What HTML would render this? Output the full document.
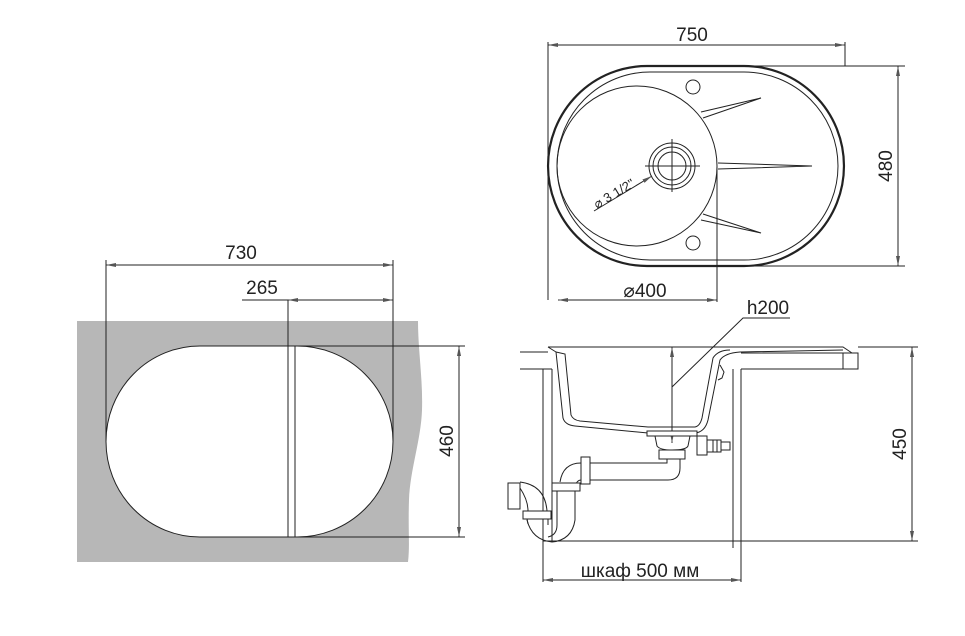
<!DOCTYPE html>
<html><head><meta charset="utf-8"><style>
html,body{margin:0;padding:0;background:#fff;}
svg{display:block;}
text{font-family:"Liberation Sans",sans-serif;fill:#222;}
</style></head><body>
<svg width="965" height="636" viewBox="0 0 965 636" xmlns="http://www.w3.org/2000/svg">
<defs>
<marker id="a" viewBox="0 0 10 6" refX="10" refY="3" markerWidth="10" markerHeight="6" orient="auto-start-reverse" markerUnits="userSpaceOnUse"><path d="M0,1 L10,3 L0,5 z" fill="#555"/></marker>
</defs>
<g stroke="#222" fill="none" stroke-width="1">
<!-- LEFT VIEW -->
<path d="M77,321 L418,321 C418,350 423,380 422,410 C421,440 410,470 409,500 C408,530 410,545 408,562 L77,562 Z" fill="#b7b7b7" stroke="none"/>
<path d="M200,346 L297,346 A96,95.5 0 0 1 297,537 L200,537 A94,95.5 0 0 1 200,346 Z" fill="#fff" stroke="#222"/>
<line x1="288" y1="300" x2="288" y2="537"/>
<line x1="295" y1="346" x2="295" y2="537"/>
<line x1="106" y1="260" x2="106" y2="441"/>
<line x1="393" y1="260" x2="393" y2="441"/>
<line x1="106" y1="265" x2="393" y2="265" marker-start="url(#a)" marker-end="url(#a)"/>
<line x1="242" y1="300" x2="288" y2="300"/>
<line x1="288" y1="300" x2="393" y2="300" marker-start="url(#a)" marker-end="url(#a)"/>
<line x1="297" y1="346" x2="465" y2="346"/>
<line x1="297" y1="537" x2="465" y2="537"/>
<line x1="459" y1="346" x2="459" y2="537" marker-start="url(#a)" marker-end="url(#a)"/>

<!-- TOP VIEW -->
<path d="M647,66 L744,66 A100,100 0 0 1 744,266 L647,266 A99,100 0 0 1 647,66 Z" stroke-width="2.2"/>
<path d="M650,72 L744,72 A94,94 0 0 1 744,260 L650,260 A93,94 0 0 1 650,72 Z"/>
<circle cx="637" cy="166" r="80"/>
<circle cx="693" cy="87" r="7"/>
<circle cx="693" cy="243" r="7"/>
<circle cx="672" cy="166" r="23"/>
<circle cx="672" cy="166" r="19"/>
<circle cx="672" cy="166" r="14"/>
<line x1="645" y1="166" x2="700" y2="166"/>
<line x1="672" y1="139" x2="672" y2="192"/>
<path d="M701,112 L761,98 L703,118"/>
<path d="M718,163 L812,166 L718,169"/>
<path d="M701,220 L761,233 L703,214"/>
<line x1="594" y1="211" x2="652" y2="176" marker-end="url(#a)"/>
<line x1="548" y1="42" x2="548" y2="300"/>
<line x1="845" y1="42" x2="845" y2="66"/>
<line x1="548" y1="45" x2="845" y2="45" marker-start="url(#a)" marker-end="url(#a)"/>
<line x1="744" y1="66" x2="905" y2="66"/>
<line x1="744" y1="266" x2="905" y2="266"/>
<line x1="898" y1="66" x2="898" y2="266" marker-start="url(#a)" marker-end="url(#a)"/>
<line x1="717" y1="166" x2="717" y2="302"/>
<line x1="558" y1="300" x2="717" y2="300" marker-start="url(#a)" marker-end="url(#a)"/>

<!-- SIDE VIEW -->
<path d="M520,352 L548,352 M520,369 L552,369"/>
<path d="M548,347 L843,347 L852,353 M741,353 L858,353 L858,369 L741,369 M843,353 L843,369"/>
<path d="M548,347 L556,352 L563,418 Q565,425 575,426 L648,433 L695,433 Q705,432 708,420 L720,360 Q725,353 740,352 L843,350"/>
<path d="M556,352 L565,354 L571,415 Q573,420 580,421 L648,427 L695,427 Q700,426 702,418 L713,358 Q718,350 730,350"/>
<path d="M720,365 L724,372 L722,378 L718,380"/>
<line x1="543" y1="369" x2="543" y2="582"/>
<line x1="552" y1="369" x2="552" y2="541"/>
<line x1="733" y1="369" x2="733" y2="548"/>
<line x1="741" y1="369" x2="741" y2="582"/>
<line x1="543" y1="541" x2="918" y2="541"/>
<line x1="858" y1="347" x2="918" y2="347"/>
<line x1="912" y1="347" x2="912" y2="541" marker-start="url(#a)" marker-end="url(#a)"/>
<line x1="543" y1="580" x2="741" y2="580" marker-start="url(#a)" marker-end="url(#a)"/>
<line x1="672" y1="347" x2="672" y2="443" marker-start="url(#a)" marker-end="url(#a)"/>
<path d="M672,387 L743,318 L790,318"/>
<!-- drain -->
<rect x="647" y="431" width="50" height="5" fill="#fff"/>
<path d="M655,436 L657,446 Q660,450 672,450 Q686,450 688,446 L690,436"/>
<rect x="659" y="450" width="26" height="9" fill="#fff"/>
<path d="M667,459 L667,463 L590,463 M680,459 L680,468 Q680,480 668,480 L590,480"/>
<rect x="697" y="436" width="10" height="19" fill="#fff"/>
<path d="M707,440 L721,440 L721,452 L707,452 M713,440 L713,452 M717,440 L717,452 M721,442 L730,442 L730,450 L721,450"/>
<rect x="581" y="457" width="9" height="27" fill="#fff"/>
<path d="M581,463 Q563,463 560,482 M581,480 Q577,480 575,486"/>
<rect x="552" y="483" width="28" height="8" fill="#fff"/>
<path d="M557,491 L557,525 Q557,535 548,537 M575,491 L575,520 Q572,540 552,542 Q532,540 527,520"/>
<rect x="523" y="511" width="28" height="8" fill="#fff"/>
<path d="M527,519 L528,524 M548,519 L548,525 M528,511 Q528,500 520,488 M547,511 Q545,485 520,482"/>
<rect x="508" y="483" width="12" height="26" fill="#fff"/>
</g>
<g font-size="19">
<text x="241" y="259" text-anchor="middle">730</text>
<text x="262" y="294" text-anchor="middle">265</text>
<text x="692" y="41" text-anchor="middle">750</text>
<text x="645" y="297" text-anchor="middle">⌀400</text>
<text x="768" y="314" text-anchor="middle">h200</text>
<text x="640" y="577" text-anchor="middle">шкаф 500 мм</text>
<text transform="translate(453,441) rotate(-90)" text-anchor="middle">460</text>
<text transform="translate(892,166) rotate(-90)" text-anchor="middle">480</text>
<text transform="translate(906,444) rotate(-90)" text-anchor="middle">450</text>
<text transform="translate(597,209) rotate(-31)" font-size="13">⌀ 3 1/2"</text>
</g>
</svg>
</body></html>
